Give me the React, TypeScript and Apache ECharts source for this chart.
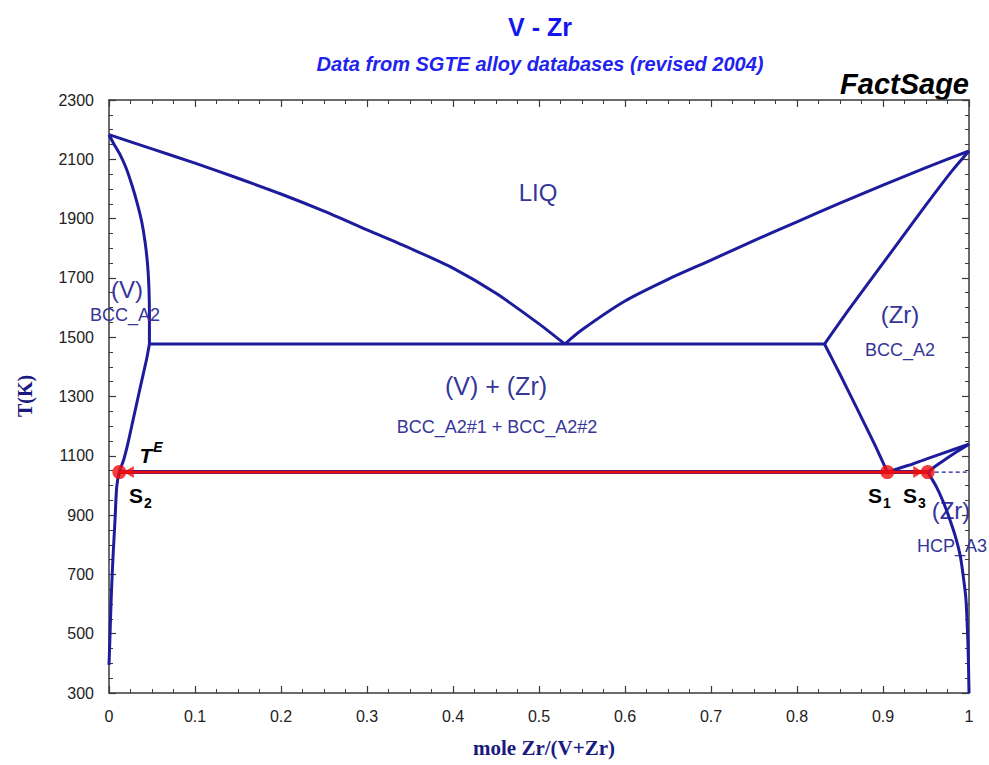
import React, { useEffect, useRef } from "react";
import * as echarts from "echarts";

// ---- data (mole fraction Zr, temperature K) ----
const T0 = 300; // bottom of temperature axis
const yTicks = [300, 500, 700, 900, 1100, 1300, 1500, 1700, 1900, 2100, 2300];

const liqLeftX = [0, 0.05, 0.1, 0.15, 0.2, 0.25, 0.3, 0.35, 0.4, 0.45, 0.5, 0.53];
const liqLeftT = [2183, 2135, 2087, 2036, 1983, 1925, 1862, 1800, 1733, 1648, 1545, 1477];

const liqRightX = [0.53, 0.55, 0.6, 0.65, 0.7, 0.75, 0.8, 0.85, 0.9, 0.95, 1.0];
const liqRightT = [1477, 1525, 1622, 1695, 1760, 1826, 1889, 1952, 2013, 2072, 2128];

const solZrX = [0.832, 0.86, 0.89, 0.92, 0.95, 0.98, 1.0];
const solZrT = [1477, 1592, 1710, 1828, 1946, 2060, 2128];

const solVX = [0, 0.006, 0.013, 0.02, 0.027, 0.033, 0.038, 0.042, 0.045, 0.0465, 0.047, 0.047];
const solVT = [2183, 2150, 2115, 2070, 2010, 1950, 1890, 1820, 1740, 1660, 1580, 1477];

const solvVX = [0.047, 0.044, 0.04, 0.034, 0.028, 0.022, 0.017, 0.012, 0.009, 0.007, 0.0045, 0.0025, 0.001, 0];
const solvVT = [1477, 1430, 1378, 1300, 1221, 1142, 1086, 1045, 996, 884, 750, 614, 480, 395];

const eutX = [0.047, 0.832];
const eutT = [1477, 1477];

const solvZrX = [0.832, 0.85, 0.87, 0.89, 0.905];
const solvZrT = [1477, 1375, 1258, 1140, 1045];

const upperX = [0.905, 0.93, 0.95, 0.97, 1.0];
const upperT = [1045, 1068, 1089, 1109, 1139];

const lowerX = [0.952, 0.965, 0.98, 1.0];
const lowerT = [1045, 1073, 1103, 1139];

const hcpX = [0.952, 0.962, 0.97, 0.978, 0.985, 0.99, 0.9935, 0.9965, 0.999, 1.0];
const hcpT = [1045, 996, 945, 883, 820, 760, 690, 614, 445, 300];

const dashX = [0.952, 1.0];
const dashT = [1045, 1045];

const redX = [0.012, 0.952];
const redT = [1045, 1045];

const pointsX = [0.012, 0.905, 0.952]; // S2, S1, S3
const pointsT = [1045, 1045, 1045];

const arrowLeftX = [0.023];
const arrowRightX = [0.941];
const arrowT = [1045];

const pts = (xs: number[], ts: number[]) => xs.map((x, i) => [x, ts[i] - T0]);

const BLUE = "#1c1c9c";
const LABEL = "#35359a";
const RED = "#f00c0c";

export default function App() {
  const ref = useRef<HTMLDivElement>(null);
  useEffect(() => {
    if (!ref.current) return;
    const chart = echarts.init(ref.current, undefined, { renderer: "svg" });
    const line = (xs: number[], ts: number[], extra: any = {}) => ({
      type: "line",
      data: pts(xs, ts),
      showSymbol: false,
      symbol: "none",
      smooth: 0.25,
      lineStyle: { color: BLUE, width: 3 },
      z: 3,
      ...extra,
    });
    const axisCommon = {
      type: "value",
      axisLine: { show: true, onZero: false, lineStyle: { color: "#3a3a3a", width: 1.5 } },
      axisTick: { show: true, inside: true, length: 7, lineStyle: { color: "#3a3a3a", width: 1.2 } },
      minorTick: { show: true, splitNumber: 4, length: 4, lineStyle: { color: "#3a3a3a", width: 1 } },
      splitLine: { show: false },
    };
    const labelFont = { fontFamily: "Liberation Sans", fontSize: 16, color: "#222" };
    const option: any = {
      animation: false,
      grid: { left: 109, top: 100, width: 860, height: 593, containLabel: false },
      xAxis: [
        {
          ...axisCommon,
          min: 0,
          max: 1,
          interval: 0.1,
          position: "bottom",
          axisLabel: { ...labelFont, margin: 15, formatter: (v: number) => (Math.round(v * 10) / 10).toString() },
        },
        {
          ...axisCommon,
          min: 0,
          max: 1,
          interval: 0.1,
          position: "top",
          axisLabel: { show: false },
        },
      ],
      yAxis: [
        {
          ...axisCommon,
          min: 0,
          max: yTicks[yTicks.length - 1] - T0,
          interval: 200,
          position: "left",
          axisLabel: { ...labelFont, margin: 15, formatter: (v: number) => String(Math.round(v + T0)) },
        },
        {
          ...axisCommon,
          min: 0,
          max: yTicks[yTicks.length - 1] - T0,
          interval: 200,
          position: "right",
          axisLabel: { show: false },
        },
      ],
      series: [
        line(liqLeftX, liqLeftT),
        line(liqRightX, liqRightT),
        line(solZrX, solZrT),
        line(solVX, solVT),
        line(solvVX, solvVT),
        line(eutX, eutT, { smooth: false }),
        line(solvZrX, solvZrT),
        line(upperX, upperT),
        line(lowerX, lowerT),
        line(hcpX, hcpT),
        line(dashX, dashT, { smooth: false, lineStyle: { color: BLUE, width: 1.2, type: [4, 3] } }),
        line(redX, redT, { smooth: false, lineStyle: { color: BLUE, width: 4 }, z: 4 }),
        line(redX, redT, { smooth: false, lineStyle: { color: RED, width: 2.8 }, z: 5 }),
        {
          type: "scatter",
          data: pts(arrowLeftX, arrowT),
          symbol: "triangle",
          symbolRotate: 90,
          symbolSize: [12, 10],
          itemStyle: { color: RED },
          z: 6,
        },
        {
          type: "scatter",
          data: pts(arrowRightX, arrowT),
          symbol: "triangle",
          symbolRotate: -90,
          symbolSize: [12, 10],
          itemStyle: { color: RED },
          z: 6,
        },
        {
          type: "scatter",
          data: pts(pointsX, pointsT),
          symbol: "circle",
          symbolSize: 14,
          itemStyle: { color: RED },
          z: 7,
        },
      ],
      graphic: [
        { type: "text", x: 540, y: 27, style: { text: "V - Zr", align: "center", verticalAlign: "middle", font: 'bold 25px "Liberation Sans"', fill: "#1515f0" } },
        { type: "text", x: 540, y: 64, style: { text: "Data from SGTE alloy databases (revised 2004)", align: "center", verticalAlign: "middle", font: 'italic bold 20px "Liberation Sans"', fill: "#2222ee" } },
        { type: "text", x: 969, y: 84, style: { text: "FactSage", align: "right", verticalAlign: "middle", font: 'italic bold 29px "Liberation Sans"', fill: "#000" } },
        { type: "text", x: 25, y: 396, rotation: Math.PI / 2, style: { text: "T(K)", align: "center", verticalAlign: "middle", font: 'bold 20px "Liberation Serif"', fill: "#1a1a80" } },
        { type: "text", x: 544, y: 748, style: { text: "mole Zr/(V+Zr)", align: "center", verticalAlign: "middle", font: 'bold 21px "Liberation Serif"', fill: "#1a1a80" } },
        { type: "text", x: 538, y: 192, z: 10, style: { text: "LIQ", align: "center", verticalAlign: "middle", font: '24px "Liberation Sans"', fill: LABEL } },
        { type: "text", x: 127, y: 289, z: 10, style: { text: "(V)", align: "center", verticalAlign: "middle", font: '24px "Liberation Sans"', fill: LABEL } },
        { type: "text", x: 125, y: 315, z: 10, style: { text: "BCC_A2", align: "center", verticalAlign: "middle", font: '18px "Liberation Sans"', fill: LABEL } },
        { type: "text", x: 900, y: 314, z: 10, style: { text: "(Zr)", align: "center", verticalAlign: "middle", font: '24px "Liberation Sans"', fill: LABEL } },
        { type: "text", x: 900, y: 350, z: 10, style: { text: "BCC_A2", align: "center", verticalAlign: "middle", font: '18px "Liberation Sans"', fill: LABEL } },
        { type: "text", x: 496, y: 386, z: 10, style: { text: "(V) + (Zr)", align: "center", verticalAlign: "middle", font: '25px "Liberation Sans"', fill: LABEL } },
        { type: "text", x: 497, y: 427, z: 10, style: { text: "BCC_A2#1 + BCC_A2#2", align: "center", verticalAlign: "middle", font: '18px "Liberation Sans"', fill: LABEL } },
        { type: "text", x: 951, y: 510, z: 1, style: { text: "(Zr)", align: "center", verticalAlign: "middle", font: '24px "Liberation Sans"', fill: LABEL } },
        { type: "text", x: 952, y: 546, z: 1, style: { text: "HCP_A3", align: "center", verticalAlign: "middle", font: '18px "Liberation Sans"', fill: LABEL } },
        { type: "text", x: 146, y: 455, z: 10, style: { text: "T", align: "center", verticalAlign: "middle", font: 'italic bold 21px "Liberation Sans"', fill: "#000" } },
        { type: "text", x: 158, y: 447, z: 10, style: { text: "E", align: "center", verticalAlign: "middle", font: 'italic bold 14px "Liberation Sans"', fill: "#000" } },
        { type: "text", x: 136, y: 495, z: 10, style: { text: "S", align: "center", verticalAlign: "middle", font: 'bold 21px "Liberation Sans"', fill: "#000" } },
        { type: "text", x: 148, y: 503, z: 10, style: { text: "2", align: "center", verticalAlign: "middle", font: 'bold 14px "Liberation Sans"', fill: "#000" } },
        { type: "text", x: 875, y: 495, z: 10, style: { text: "S", align: "center", verticalAlign: "middle", font: 'bold 21px "Liberation Sans"', fill: "#000" } },
        { type: "text", x: 887, y: 503, z: 10, style: { text: "1", align: "center", verticalAlign: "middle", font: 'bold 14px "Liberation Sans"', fill: "#000" } },
        { type: "text", x: 910, y: 495, z: 10, style: { text: "S", align: "center", verticalAlign: "middle", font: 'bold 21px "Liberation Sans"', fill: "#000" } },
        { type: "text", x: 922, y: 503, z: 10, style: { text: "3", align: "center", verticalAlign: "middle", font: 'bold 14px "Liberation Sans"', fill: "#000" } },
      ],
    };
    chart.setOption(option);
    return () => chart.dispose();
  }, []);
  return <div ref={ref} style={{ width: 989, height: 765, position: "absolute", left: 0, top: 0, background: "#fff" }} />;
}
